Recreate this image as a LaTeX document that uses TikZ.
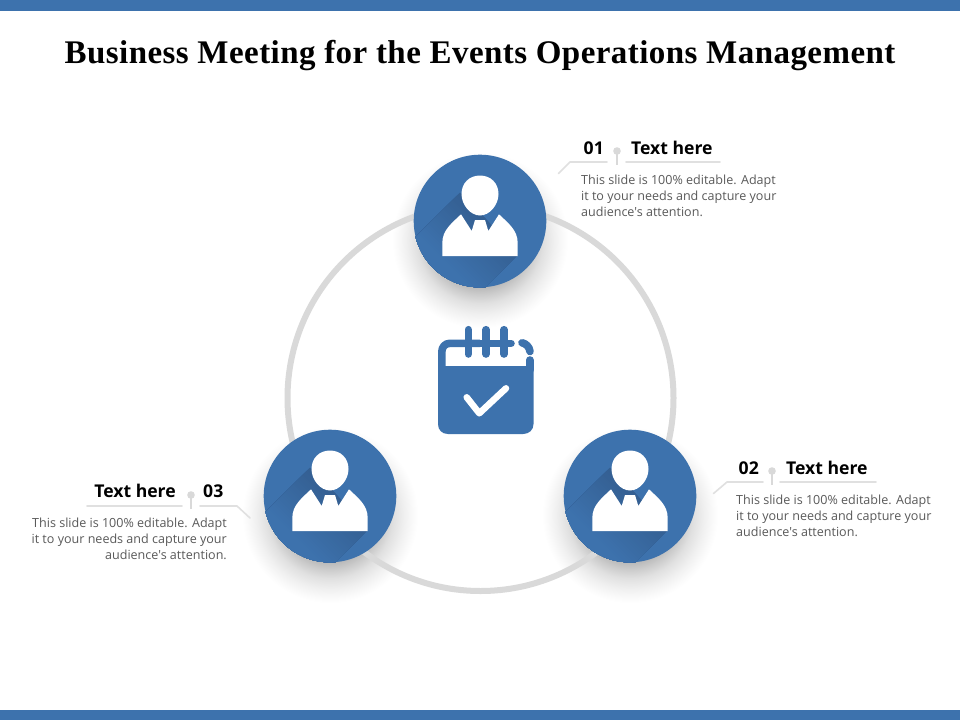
\documentclass[tikz,border=0pt]{standalone}
\usepackage{fontspec}
\setmainfont{Open Sans}
\newfontfamily\bodyfont{Open Sans}
\newfontfamily\titlefont[LetterSpace=1.35]{Liberation Serif}
\definecolor{brandblue}{HTML}{3D72AD}
\definecolor{deepblue}{HTML}{345F92}
\definecolor{leadgray}{HTML}{E0E0E0}
\definecolor{dotgray}{HTML}{D9D9D9}
\definecolor{ringgray}{HTML}{D9D9D9}
\definecolor{bodygray}{HTML}{595959}
\pgfdeclareradialshading{softshadow}{\pgfpoint{0bp}{0bp}}{
  color(0bp)=(black!28);
  color(13.5bp)=(black!27);
  color(15.5bp)=(black!20);
  color(18bp)=(black!12);
  color(21bp)=(black!6);
  color(23.5bp)=(black!2);
  color(25bp)=(white);
  color(50bp)=(white)}
\tikzset{
  bar/.style={fill=brandblue,draw=none},
  head/.style={font=\bodyfont\fontsize{17.6}{22}\selectfont\bfseries,text=black,inner sep=0pt},
  bodytext/.style={font=\bodyfont\fontsize{12.55}{16}\selectfont,text=bodygray,inner sep=0pt},
  leadline/.style={draw=leadgray,line width=1.6pt,line cap=round,line join=round},
  stem/.style={draw=dotgray,line width=1.6pt},
  disc/.style={circle,fill=brandblue,draw=none,minimum size=132.6pt,inner sep=0pt},
  calstroke/.style={draw=brandblue,line width=7.6pt,line cap=round,line join=round}
}
\newcommand{\personicon}[3]{%
  \begin{scope}[shift={(#1,#2)}]
    \node[disc] (#3) at (0,0) {};
    \begin{scope}
      \clip (0,0) circle (66.3);
      \clip (-18.3,-30) -- (-118.3,70) -- (-62.3,134) -- (37.7,34) -- cycle;
      \foreach \i in {0,...,33} {
        \pgfmathsetmacro{\s}{-6+2*\i}
        \pgfmathsetmacro{\a}{-.7071*\s}
        \pgfmathsetmacro{\b}{.7071*\s}
        \pgfmathtruncatemacro{\p}{min(100,3.4*\i)}
        \fill[brandblue!\p!deepblue] (\a+71,\b+71) -- (\a-71,\b-71) -- (-156,14) -- (-14,156) -- cycle;
      }
    \end{scope}
    \fill[white] (0,-45.5) .. controls (10.5,-45.5) and (18.5,-38) .. (18.5,-27)
      .. controls (18.5,-16) and (9.5,-5.5) .. (0,-5.5)
      .. controls (-9.5,-5.5) and (-18.5,-16) .. (-18.5,-27)
      .. controls (-18.5,-38) and (-10.5,-45.5) .. (0,-45.5) -- cycle;
    \fill[white] (-37.7,35) -- (-37.7,22) .. controls (-37.7,9) and (-28,2) .. (-19,-6.7)
      -- (-8.3,10) -- (-5,-1) -- (5,-1) -- (8.3,10) -- (19,-6.7)
      .. controls (28,2) and (37.7,9) .. (37.7,22) -- (37.7,35) -- cycle;
  \end{scope}}
\begin{document}
\begin{tikzpicture}[x=1pt,y=-1pt]
  \useasboundingbox (0,0) rectangle (960,720);
  \fill[white] (0,0) rectangle (960,720);
  \fill[bar] (0,0) rectangle (960,10.5);
  \fill[bar] (0,709.5) rectangle (960,720);
  \node[inner sep=0pt,anchor=base,font=\titlefont\fontsize{33}{38}\selectfont\bfseries] (title) at (480,63.3) {Business Meeting for the Events Operations Management};

  % soft shadows
  \shade[shading=softshadow] (480,240) circle (88);
  \shade[shading=softshadow] (630,515) circle (88);
  \shade[shading=softshadow] (330,515) circle (88);

  % ring
  \draw[ringgray,line width=6pt] (480.5,398) circle (193);

  % people
  \personicon{480}{221}{p1}
  \personicon{630}{496}{p2}
  \personicon{330}{496}{p3}

  % calendar
  \fill[brandblue] (438,366) -- (533.5,366) -- (533.5,424) .. controls (533.5,430) and (529,434) .. (523,434)
    -- (448,434) .. controls (442,434) and (438,430) .. (438,424) -- cycle;
  \draw[calstroke,line cap=butt] (441.8,370) -- (441.8,352) .. controls (441.8,347) and (445,343.3) .. (450,343.3) -- (480,343.3);
  \draw[calstroke] (480,343.3) -- (511,343.3);
  \draw[calstroke] (522,342.8) .. controls (526,343.5) and (529.5,347) .. (530,351.5);
  \draw[calstroke] (529.7,360) -- (529.7,370);
  \foreach \x in {468.3,486,504} \draw[calstroke] (\x,329.7) -- (\x,354);
  \draw[draw=white,line width=6.5pt,line cap=round,line join=round] (466.7,397.3) -- (479.3,413.3) -- (506,388.3);

  % callout 01
  \draw[leadline] (558.5,173.5) -- (570,162) -- (607,162);
  \draw[leadline] (626,162) -- (720,162);
  \draw[stem] (617,151) -- (617,165);
  \fill[dotgray] (617,151) circle (3.8);
  \node[head,anchor=west] (n1) at (583.5,148) {01};
  \node[head,anchor=west] (t1) at (631,148) {Text here};
  \node[bodytext,anchor=north west,align=left] (b1) at (581,174.5) {This slide is 100\% editable. Adapt\\it to your needs and capture your\\audience's attention.};

  % callout 02
  \draw[leadline] (713.5,493.5) -- (727,482) -- (763,482);
  \draw[leadline] (780,482) -- (876,482);
  \draw[stem] (772,471) -- (772,485);
  \fill[dotgray] (772,471) circle (3.8);
  \node[head,anchor=west] (n2) at (738.5,468) {02};
  \node[head,anchor=west] (t2) at (786,468) {Text here};
  \node[bodytext,anchor=north west,align=left] (b2) at (736,494.5) {This slide is 100\% editable. Adapt\\it to your needs and capture your\\audience's attention.};

  % callout 03
  \draw[leadline] (87,506) -- (182,506);
  \draw[leadline] (200,506) -- (237,506) -- (250,518);
  \draw[stem] (191,495) -- (191,509);
  \fill[dotgray] (191,495) circle (3.8);
  \node[head,anchor=east] (t3) at (176,491) {Text here};
  \node[head,anchor=west] (n3) at (203,491) {03};
  \node[bodytext,anchor=north east,align=right] (b3) at (227,517.5) {This slide is 100\% editable. Adapt\\it to your needs and capture your\\audience's attention.};
\end{tikzpicture}
\end{document}
